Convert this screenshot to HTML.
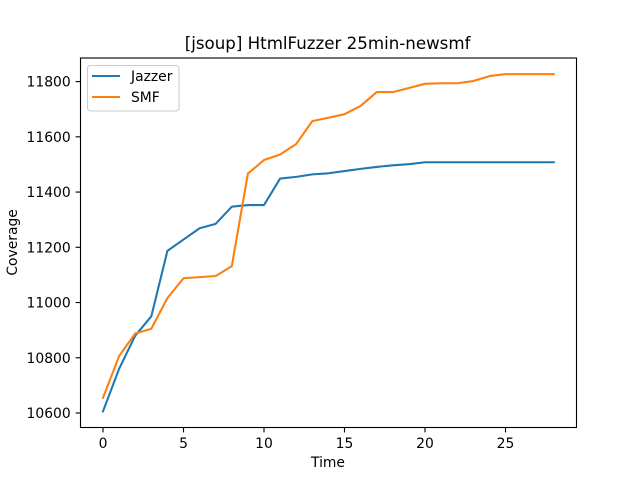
<!DOCTYPE html>
<html>
<head>
<meta charset="utf-8">
<title>[jsoup] HtmlFuzzer 25min-newsmf</title>
<style>
html,body{margin:0;padding:0;background:#fff;width:640px;height:480px;overflow:hidden}
svg{display:block}
text{font-family:"DejaVu Sans",sans-serif;fill:#000}
</style>
</head>
<body>
<svg id="chart" width="640" height="480" viewBox="0 0 640 480" xmlns="http://www.w3.org/2000/svg">
  <rect x="0" y="0" width="640" height="480" fill="#fff"/>
  <g id="ticks"></g>
  <g id="series"></g>
  <rect x="80.5" y="58" width="496" height="369.5" fill="none" stroke="#000" stroke-width="1.11"/>
  <text x="327.6" y="49" font-size="16.67" text-anchor="middle">[jsoup] HtmlFuzzer 25min-newsmf</text>
  <text x="328" y="467" font-size="13.89" text-anchor="middle">Time</text>
  <text transform="translate(17,242.4) rotate(-90)" font-size="13.89" text-anchor="middle">Coverage</text>
  <g>
    <rect x="87.5" y="65.5" width="91.5" height="45.5" rx="3" ry="3" fill="#fff" fill-opacity="0.8" stroke="#ccc" stroke-width="1.11"/>
    <line x1="92" x2="120" y1="76" y2="76" stroke="#1f77b4" stroke-width="2.08"/>
    <text x="131" y="81" font-size="13.89">Jazzer</text>
    <line x1="92" x2="120" y1="97" y2="97" stroke="#ff7f0e" stroke-width="2.08"/>
    <text x="131" y="102" font-size="13.89">SMF</text>
  </g>
</svg>
<script>
const xTickValues = [0, 5, 10, 15, 20, 25];
const yTickValues = [10600, 10800, 11000, 11200, 11400, 11600, 11800];
const jazzerValues = [10606, 10760, 10880, 10950, 11187, 11228, 11269, 11285, 11347, 11353, 11353, 11449, 11455, 11464, 11468, 11476, 11484, 11491, 11497, 11501, 11508, 11508, 11508, 11508, 11508, 11508, 11508, 11508, 11508];
const smfValues = [10655, 10806, 10888, 10905, 11016, 11088, 11092, 11096, 11132, 11467, 11516, 11536, 11574, 11657, 11669, 11682, 11712, 11762, 11762, 11777, 11792, 11794, 11794, 11802, 11820, 11827, 11827, 11827, 11827];

const NS = 'http://www.w3.org/2000/svg';
function xScale(v) { return 103 + v * 16.1; }
function yScale(v) { return 413 - (v - 10600) * 0.27617; }

const tickGroup = document.getElementById('ticks');
xTickValues.forEach(function (v) {
  const px = xScale(v);
  const t = document.createElementNS(NS, 'line');
  
  
  t.setAttribute('x1', px); t.setAttribute('x2', px);
  t.setAttribute('y1', 427.5); t.setAttribute('y2', 432.4);
  t.setAttribute('stroke', '#000'); t.setAttribute('stroke-width', 1.11);
  tickGroup.appendChild(t);
  const l = document.createElementNS(NS, 'text');
  
  
  l.setAttribute('x', px); l.setAttribute('y', 448);
  l.setAttribute('font-size', 13.89); l.setAttribute('text-anchor', 'middle');
  l.textContent = String(v);
  tickGroup.appendChild(l);
});
yTickValues.forEach(function (v) {
  const py = yScale(v);
  const t = document.createElementNS(NS, 'line');
  
  
  t.setAttribute('x1', 75.6); t.setAttribute('x2', 80.5);
  t.setAttribute('y1', py); t.setAttribute('y2', py);
  t.setAttribute('stroke', '#000'); t.setAttribute('stroke-width', 1.11);
  tickGroup.appendChild(t);
  const l = document.createElementNS(NS, 'text');
  
  
  l.setAttribute('x', 70.7); l.setAttribute('y', py + 5);
  l.setAttribute('font-size', 13.89); l.setAttribute('text-anchor', 'end');
  l.textContent = String(v);
  tickGroup.appendChild(l);
});

function toPoints(values) {
  return values.map(function (v, i) { return xScale(i).toFixed(2) + ',' + yScale(v).toFixed(2); }).join(' ');
}
const seriesGroup = document.getElementById('series');

const jazzerLine = document.createElementNS(NS, 'polyline');


jazzerLine.setAttribute('points', toPoints(jazzerValues));
jazzerLine.setAttribute('fill', 'none');
jazzerLine.setAttribute('stroke', '#1f77b4');
jazzerLine.setAttribute('stroke-width', 2.08);
jazzerLine.setAttribute('stroke-linejoin', 'round');
jazzerLine.setAttribute('stroke-linecap', 'square');
seriesGroup.appendChild(jazzerLine);

const smfLine = document.createElementNS(NS, 'polyline');


smfLine.setAttribute('points', toPoints(smfValues));
smfLine.setAttribute('fill', 'none');
smfLine.setAttribute('stroke', '#ff7f0e');
smfLine.setAttribute('stroke-width', 2.08);
smfLine.setAttribute('stroke-linejoin', 'round');
smfLine.setAttribute('stroke-linecap', 'square');
seriesGroup.appendChild(smfLine);
</script>
</body>
</html>
